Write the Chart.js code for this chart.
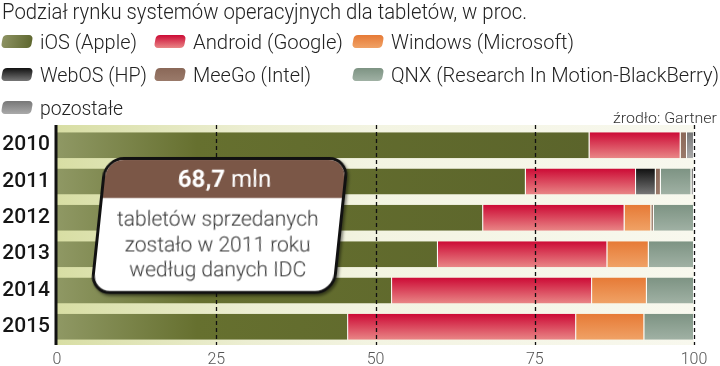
<!DOCTYPE html>
<html lang="pl">
<head>
    <meta charset="UTF-8">
    <title>Podział rynku systemów operacyjnych dla tabletów</title>
    <style>
        body {
            margin: 0;
            width: 720px;
            height: 366px;
            position: relative;
            overflow: hidden;
            background: #fff;
            font-family: Roboto, "DejaVu Sans", sans-serif;
        }

        #chart-box {
            position: absolute;
            left: 0;
            top: 0;
            width: 720px;
            height: 366px;
        }

        /* teksty nad wykresem */
        .txt {
            position: absolute;
            white-space: nowrap;
            transform-origin: left center;
            font-weight: 300;
            color: #222;
        }

        #title { left: 2px; top: 0; font-size: 22px; line-height: 24px; }
        #source { left: 613px; top: 109px; font-size: 15px; line-height: 18px; color: #333; }

        .swatch {
            position: absolute;
            width: 30px;
            height: 13px;
            border-radius: 4px;
            transform: skewX(-10deg);
        }

        .legend-label { font-size: 21px; line-height: 24px; }

        /* ramka z informacją IDC */
        #callout {
            position: absolute;
            left: 97px;
            top: 157px;
            width: 245px;
            height: 137px;
            box-sizing: border-box;
            border: 3px solid #111;
            border-radius: 20px;
            background: #fff;
            overflow: hidden;
            transform: skewX(-6deg);
            box-shadow: 2px 2px 3px rgba(0, 0, 0, 0.45);
            text-align: center;
        }

        #callout .head {
            height: 38px;
            line-height: 38px;
            background: #7b5747;
            color: #fff;
            font-size: 24px;
        }

        #callout .head span,
        #callout .body span {
            display: inline-block;
            transform: skewX(6deg);
        }

        #callout .head b { font-weight: 700; }

        #callout .body {
            padding-top: 9px;
            font-size: 21px;
            line-height: 25px;
            font-weight: 300;
            color: #333;
        }
    </style>
</head>
<body>
    <div id="chart-box"><canvas id="share-chart" width="720" height="366"></canvas></div>

    <div id="title" class="txt" data-w="525">Podział rynku systemów operacyjnych dla tabletów, w proc.</div>
    <div id="legend"></div>
    <div id="source" class="txt" data-w="104">źrodło: Gartner</div>

    <div id="callout">
        <div class="head"><span><b>68,7</b> mln</span></div>
        <div class="body"><span>tabletów sprzedanych<br>zostało w 2011 roku<br>według danych IDC</span></div>
    </div>

    <script src="https://cdn.jsdelivr.net/npm/chart.js"></script>
    <script>
        // dane (udział w proc.)
        const years = ['2010', '2011', '2012', '2013', '2014', '2015'];
        const seriesNames = ['iOS (Apple)', 'Android (Google)', 'Windows (Microsoft)', 'WebOS (HP)',
            'MeeGo (Intel)', 'QNX (Research In Motion-BlackBerry)', 'pozostałe'];
        const iosShare = [83.6, 73.6, 66.9, 59.8, 52.6, 45.7];
        const androidShare = [14.3, 17.3, 22.2, 26.6, 31.4, 35.8];
        const windowsShare = [0, 0, 4.2, 6.5, 8.6, 10.7];
        const webosShare = [0, 3.1, 0, 0, 0, 0];
        const meegoShare = [1.0, 0.8, 0.4, 0, 0, 0];
        const qnxShare = [0, 4.8, 6.3, 7.1, 7.4, 7.8];
        const otherShare = [1.1, 0.4, 0, 0, 0, 0];
        const xTicks = [0, 25, 50, 75, 100];

        // kolory segmentów (góra / dół gradientu)
        const shades = [
            ['#8d9262', '#575f28'],
            ['#cc0a35', '#e98686'],
            ['#e67a36', '#f0a266'],
            ['#111111', '#777777'],
            ['#8a6858', '#9a7a6a'],
            ['#7d9383', '#a0b1a4'],
            ['#777777', '#aaaaaa']
        ];

        // legenda: [lewa krawędź kwadratu, środek wiersza, szerokość tekstu]
        const legendPlace = [
            [2, 42, 97], [155, 42, 150], [353, 42, 183],
            [2, 75, 107], [155, 75, 118], [353, 75, 328],
            [2, 108, 83]
        ];

        const legend = document.getElementById('legend');
        seriesNames.forEach(function (name, i) {
            const p = legendPlace[i];
            const box = document.createElement('div');
            box.className = 'swatch';
            box.style.left = p[0] + 'px';
            box.style.top = (p[1] - 7) + 'px';
            box.style.background = 'linear-gradient(' + shades[i][0] + ',' + shades[i][1] + ')';
            if (i === 0) box.style.background = 'linear-gradient(90deg,#8d9262,#5f6830)';
            legend.appendChild(box);

            const label = document.createElement('div');
            label.className = 'txt legend-label';
            label.textContent = name;
            label.style.left = (p[0] + 38) + 'px';
            label.style.top = (p[1] - 12) + 'px';
            label.dataset.w = p[2];
            legend.appendChild(label);
        });

        function fitText() {
            document.querySelectorAll('[data-w]').forEach(function (el) {
                el.style.transform = 'none';
                const w = el.getBoundingClientRect().width;
                if (w > 0) el.style.transform = 'scaleX(' + (el.dataset.w / w) + ')';
            });
        }
        fitText();
        if (document.fonts) document.fonts.ready.then(fitText);

        // gradient pionowy w obrębie jednego paska
        function barShade(top, bottom) {
            return function (ctx) {
                const chart = ctx.chart;
                const y = chart.scales.y;
                if (!chart.chartArea || !y || ctx.dataIndex === undefined) return top;
                const yc = y.getPixelForValue(ctx.dataIndex);
                const g = chart.ctx.createLinearGradient(0, yc - 13, 0, yc + 13);
                g.addColorStop(0, top);
                g.addColorStop(1, bottom);
                return g;
            };
        }

        function iosShade(ctx) {
            const a = ctx.chart.chartArea;
            if (!a) return '#5e6630';
            const g = ctx.chart.ctx.createLinearGradient(a.left, 0, a.right, 0);
            g.addColorStop(0, '#8f9864');
            g.addColorStop(0.22, '#66702f');
            g.addColorStop(1, '#58612a');
            return g;
        }

        const plotBackground = {
            id: 'plotBackground',
            beforeDatasetsDraw(chart) {
                const a = chart.chartArea;
                const c = chart.ctx;
                const g = c.createLinearGradient(a.left, 0, a.right, 0);
                g.addColorStop(0, '#d8dea4');
                g.addColorStop(0.3, '#eceed2');
                g.addColorStop(0.5, '#f3f4e2');
                g.addColorStop(1, '#f8f8ee');
                c.save();
                c.fillStyle = g;
                c.fillRect(a.left, a.top - 2, a.right - a.left, a.bottom - a.top + 2);
                c.restore();
            }
        };

        // przerywane linie siatki nad paskami + oś zero
        const gridOnTop = {
            id: 'gridOnTop',
            afterDatasetsDraw(chart) {
                const a = chart.chartArea;
                const c = chart.ctx;
                const x = chart.scales.x;
                c.save();
                c.strokeStyle = '#111';
                xTicks.forEach(function (v) {
                    const px = Math.round(x.getPixelForValue(v)) + 0.5;
                    c.beginPath();
                    if (v === 0) {
                        c.setLineDash([]);
                        c.lineWidth = 3;
                    } else {
                        c.setLineDash([4, 3]);
                        c.lineWidth = 1.3;
                    }
                    c.moveTo(px - (v === 0 ? 1.5 : 0), a.top - 2);
                    c.lineTo(px - (v === 0 ? 1.5 : 0), a.bottom);
                    c.stroke();
                });
                c.restore();
            }
        };

        const shares = [iosShare, androidShare, windowsShare, webosShare, meegoShare, qnxShare, otherShare];
        const datasets = shares.map(function (data, i) {
            return {
                label: seriesNames[i],
                data: data,
                backgroundColor: i === 0 ? iosShade : barShade(shades[i][0], shades[i][1]),
                borderColor: 'rgba(255,255,255,0.85)',
                borderWidth: { left: 0, right: 1, top: 0, bottom: 0 },
                borderSkipped: false,
                barPercentage: 0.716,
                categoryPercentage: 1
            };
        });

        new Chart(document.getElementById('share-chart'), {
            type: 'bar',
            data: { labels: years, datasets: datasets },
            plugins: [plotBackground, gridOnTop],
            options: {
                indexAxis: 'y',
                responsive: false,
                animation: false,
                layout: { padding: { top: 127, right: 26, bottom: 0, left: 0 } },
                plugins: { legend: { display: false }, tooltip: { enabled: false } },
                scales: {
                    x: {
                        stacked: true,
                        min: 0,
                        max: 100,
                        afterBuildTicks(scale) { scale.ticks = xTicks.map(v => ({ value: v })); },
                        afterFit(scale) { scale.height = 21; },
                        grid: { display: false, drawTicks: false },
                        border: { display: false },
                        ticks: {
                            padding: 5,
                            color: '#555',
                            font: { family: 'Roboto', weight: '300', size: 16 }
                        }
                    },
                    y: {
                        stacked: true,
                        afterFit(scale) { scale.width = 57; },
                        grid: { display: false, drawTicks: false },
                        border: { display: false },
                        ticks: {
                            padding: 7,
                            color: '#151515',
                            font: { family: 'Roboto', weight: '500', size: 21 }
                        }
                    }
                }
            }
        });
    </script>
</body>
</html>
